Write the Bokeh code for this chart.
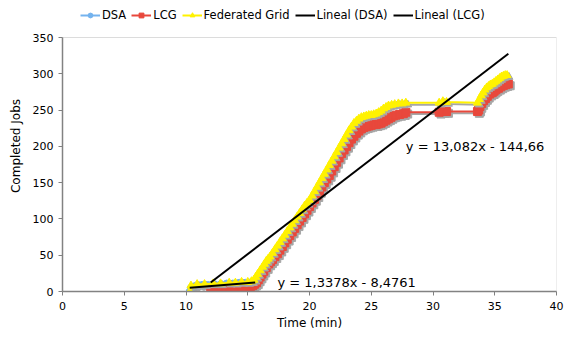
from bokeh.plotting import figure
from bokeh.models import Legend, LegendItem, Range1d, FixedTicker, Label, BoxAnnotation
from bokeh.embed import file_html
from bokeh.resources import INLINE

# ---------------- data ----------------
dsa_x = [10.3, 10.4, 10.8, 11.3, 11.8, 12.3, 12.8, 13.3, 13.8, 14.3, 14.8, 15.3, 15.6]
dsa_y = [0, 5, 8, 9, 9, 10, 10, 11, 11, 12, 12, 13, 14]

lcg_x = [12.0, 12.5, 13.2, 13.6, 14.0, 14.5, 15.0, 15.2, 15.4, 15.55, 15.7, 15.85, 16.0, 16.15,
         16.3, 16.5, 16.7, 16.85, 17.0, 17.2, 17.4, 17.6, 17.8, 18.0, 18.2, 18.4, 18.6, 18.8,
         19.0, 19.2, 19.4, 19.6, 19.8, 20.0, 20.2, 20.4, 20.6, 20.8, 21.0, 21.2, 21.4, 21.6,
         21.8, 22.0, 22.2, 22.4, 22.6, 22.8, 23.0, 23.2, 23.4, 23.6, 23.8, 24.0, 24.2, 24.4,
         24.6, 24.8, 25.0, 25.2, 25.4, 25.6, 25.8, 26.0, 26.2, 26.4, 26.6, 26.8, 27.0, 27.3,
         27.6, 27.8, 30.5, 30.8, 31.1, 33.6, 33.7, 33.8, 33.95, 34.1, 34.25, 34.4, 34.6, 34.8,
         34.95, 35.1, 35.3, 35.5, 35.7, 35.9, 36.1]
lcg_y = [0, 1, 2, 3, 3, 4, 5, 6, 8, 10, 12, 16, 20, 24,
         28, 33, 38, 41, 44, 48, 52, 57, 62, 67, 72, 77, 82, 87,
         92, 97, 102, 107, 112, 117, 122, 127, 132, 138, 144, 150, 155, 160,
         166, 172, 178, 184, 190, 195, 200, 205, 210, 214, 218, 221, 224, 226,
         227, 228, 229, 230, 230, 231, 232, 234, 236, 238, 240, 242, 243, 244,
         245, 247, 247, 248, 248, 248, 250, 255, 259, 263, 266, 269, 272, 274,
         276, 278, 280, 282, 284, 285, 286]

fed_x = [10.3, 10.4, 10.9, 11.5, 12.2, 12.8, 13.5, 14.0, 14.5, 15.0, 15.3, 15.5, 15.65, 15.8,
         16.0, 16.2, 16.35, 16.5, 16.65, 16.8, 17.0, 17.2, 17.4, 17.6, 17.8, 18.0, 18.2, 18.4,
         18.6, 18.8, 19.0, 19.2, 19.4, 19.6, 19.8, 20.0, 20.2, 20.4, 20.6, 20.8, 21.0, 21.2,
         21.4, 21.6, 21.8, 22.0, 22.2, 22.4, 22.6, 22.8, 23.0, 23.2, 23.4, 23.6, 23.8, 24.0,
         24.2, 24.4, 24.6, 24.8, 25.0, 25.2, 25.4, 25.6, 25.8, 26.0, 26.2, 26.4, 26.65, 26.9,
         27.2, 27.5, 27.8, 30.5, 30.8, 31.1, 33.6, 33.75, 33.9, 34.05, 34.2, 34.35, 34.5, 34.65,
         34.8, 34.95, 35.1, 35.25, 35.4, 35.55, 35.7, 35.85, 36.0]
fed_y = [0, 8, 10, 10, 11, 11, 12, 12, 13, 13, 14, 16, 20, 24,
         29, 34, 38, 42, 45, 48, 53, 58, 63, 68, 73, 78, 83, 88,
         93, 98, 103, 108, 113, 118, 122, 126, 132, 138, 144, 150, 156, 162,
         168, 174, 180, 186, 192, 198, 204, 210, 216, 222, 227, 232, 235, 238,
         240, 241, 242, 243, 243, 244, 245, 247, 249, 252, 254, 256, 257, 258,
         259, 259, 260, 260, 262, 261, 260, 265, 270, 274, 278, 281, 283, 285,
         286, 288, 290, 292, 294, 296, 297, 298, 298]

# trend lines: slope, intercept, x-range
trend_dsa = {"slope": 1.3378, "intercept": -8.4761, "x": [10.3, 15.6]}
trend_lcg = {"slope": 13.082, "intercept": -144.66, "x": [12.0, 36.1]}
trend_labels = ["y = 1,3378x - 8,4761", "y = 13,082x - 144,66"]

x_ticks = [0, 5, 10, 15, 20, 25, 30, 35, 40]
y_ticks = [0, 50, 100, 150, 200, 250, 300, 350]
X_MIN, X_MAX = 0, 40
Y_MIN, Y_MAX = 0, 350

# ---------------- layout / styles ----------------
FONT = "DejaVu Sans"
C_DSA = "#74b3ee"
C_LCG = "#e8483c"
C_FED = "#fff200"
C_SHADOW = "#a6a6a6"
C_AXIS = "#808080"

W, H = 565, 344
B_LEFT, B_RIGHT, B_TOP, B_BOTTOM = 62, 9, 0, 53
PLOT_PX = 254                      # pixel height of the 0..350 box
frame_h = H - B_TOP - B_BOTTOM
y_top = Y_MAX * frame_h / PLOT_PX  # room above the box for the legend

p = figure(width=W, height=H, output_backend="svg", toolbar_location=None,
           x_range=Range1d(X_MIN, X_MAX), y_range=Range1d(Y_MIN, y_top),
           min_border_left=B_LEFT, min_border_right=B_RIGHT,
           min_border_top=B_TOP, min_border_bottom=B_BOTTOM)
p.title.visible = False
p.background_fill_color = "white"
p.border_fill_color = "white"
p.outline_line_color = None
p.xgrid.visible = False
p.ygrid.visible = False

# plot-area box
p.add_layout(BoxAnnotation(left=X_MIN, right=X_MAX, bottom=Y_MIN, top=Y_MAX,
                           fill_alpha=0, line_color="#8a8a8a", line_width=1))

for ax in (p.xaxis[0], p.yaxis[0]):
    ax.axis_line_color = C_AXIS
    ax.axis_line_width = 1.5
    ax.major_tick_line_color = C_AXIS
    ax.major_tick_out = 4
    ax.major_tick_in = 0
    ax.minor_tick_line_color = None
    ax.major_label_text_font = FONT
    ax.major_label_text_font_size = "11px"
    ax.major_label_text_color = "#000000"
    ax.axis_label_text_font = FONT
    ax.axis_label_text_font_size = "12px"
    ax.axis_label_text_font_style = "normal"
    ax.axis_label_text_color = "#000000"

p.yaxis.bounds = (Y_MIN, Y_MAX)
p.xaxis.ticker = FixedTicker(ticks=x_ticks)
p.yaxis.ticker = FixedTicker(ticks=y_ticks)
p.xaxis.axis_label = "Time (min)"
p.yaxis.axis_label = "Completed Jobs"
p.xaxis.major_label_standoff = 6
p.yaxis.major_label_standoff = 5
p.xaxis.axis_label_standoff = 3
p.yaxis.axis_label_standoff = 7

# shadows (offset copies)
dx, dy = 0.15, -2.5
def shadow(xs, ys, marker, size):
    sx = [v + dx for v in xs]
    sy = [v + dy for v in ys]
    p.line(sx, sy, line_color=C_SHADOW, line_width=2)
    p.scatter(sx, sy, marker=marker, size=size, fill_color=C_SHADOW, line_color=C_SHADOW)

# DSA
shadow(dsa_x, dsa_y, "circle", 7)
l_dsa = p.line(dsa_x, dsa_y, line_color=C_DSA, line_width=2)
m_dsa = p.scatter(dsa_x, dsa_y, marker="circle", size=7, fill_color=C_DSA, line_color=C_DSA)

# LCG
shadow(lcg_x, lcg_y, "square", 8)
l_lcg = p.line(lcg_x, lcg_y, line_color=C_LCG, line_width=2)
m_lcg = p.scatter(lcg_x, lcg_y, marker="square", size=8, fill_color=C_LCG, line_color=C_LCG)

# Federated Grid
shadow(fed_x, fed_y, "triangle", 8)
l_fed = p.line(fed_x, fed_y, line_color=C_FED, line_width=2)
m_fed = p.scatter(fed_x, fed_y, marker="triangle", size=8, fill_color=C_FED, line_color=C_FED)

# Trend lines
def trend_pts(t):
    xs = t["x"]
    return xs, [t["slope"] * v + t["intercept"] for v in xs]

tx, ty = trend_pts(trend_dsa)
t_dsa = p.line(tx, ty, line_color="black", line_width=2)
tx, ty = trend_pts(trend_lcg)
t_lcg = p.line(tx, ty, line_color="black", line_width=2)

# equation labels
p.add_layout(Label(x=17.4, y=2, text=trend_labels[0], text_font=FONT, text_font_size="13px",
                   text_color="#000000"))
p.add_layout(Label(x=27.8, y=190, text=trend_labels[1], text_font=FONT, text_font_size="13px",
                   text_color="#000000"))

legend = Legend(items=[
    LegendItem(label="DSA", renderers=[l_dsa, m_dsa]),
    LegendItem(label="LCG", renderers=[l_lcg, m_lcg]),
    LegendItem(label="Federated Grid", renderers=[l_fed, m_fed]),
    LegendItem(label="Lineal (DSA)", renderers=[t_dsa]),
    LegendItem(label="Lineal (LCG)", renderers=[t_lcg]),
], orientation="horizontal", location=(18, frame_h - 22))
legend.label_text_font = FONT
legend.label_text_font_size = "11.5px"
legend.label_text_color = "#000000"
legend.glyph_width = 20
legend.glyph_height = 12
legend.label_standoff = 2
legend.spacing = 5
legend.padding = 2
legend.margin = 0
legend.border_line_color = None
legend.background_fill_alpha = 0
p.add_layout(legend, "center")

open("out.html", "w").write(file_html(p, INLINE))
